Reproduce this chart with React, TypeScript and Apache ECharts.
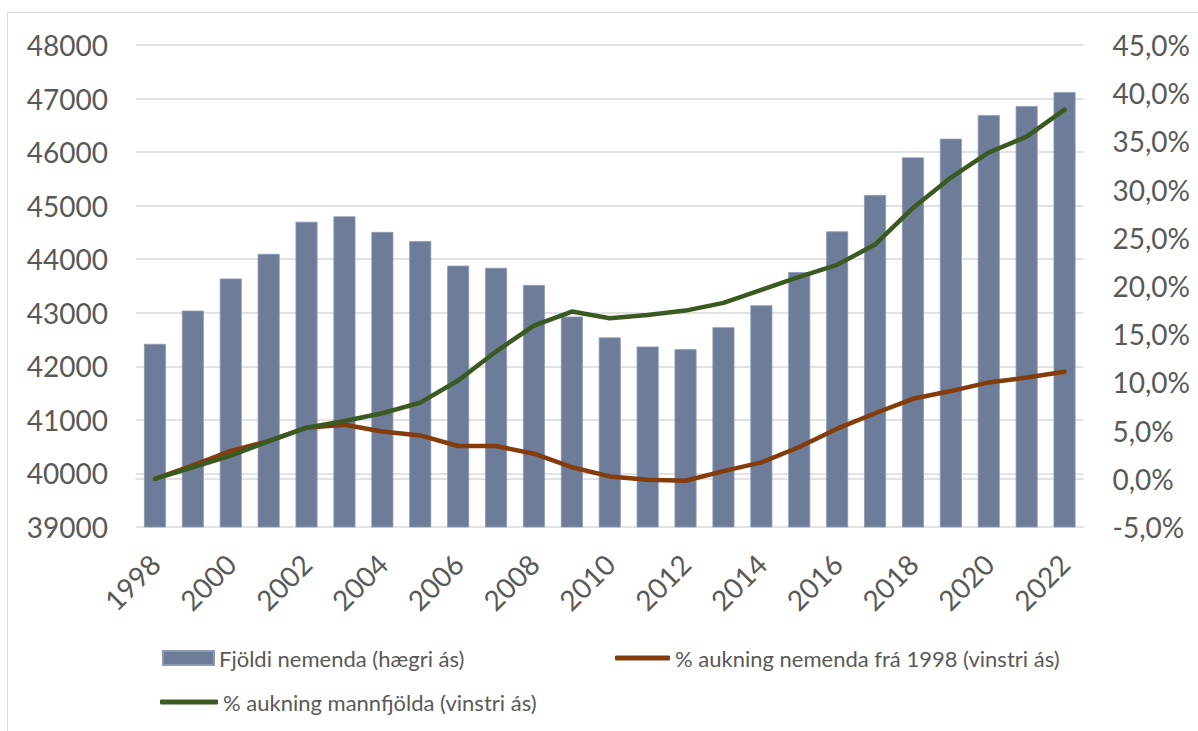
import React, { useEffect, useRef } from "react";
import * as echarts from "echarts";

const years = [
  "1998", "1999", "2000", "2001", "2002", "2003", "2004", "2005", "2006", "2007",
  "2008", "2009", "2010", "2011", "2012", "2013", "2014", "2015", "2016", "2017",
  "2018", "2019", "2020", "2021", "2022",
];

const students = [
  42420, 43040, 43640, 44100, 44700, 44800, 44510, 44340, 43880, 43840,
  43520, 42930, 42540, 42370, 42320, 42730, 43140, 43760, 44520, 45200,
  45900, 46250, 46690, 46860, 47120,
];

const studentGrowth = [
  0, 1.4, 2.9, 3.9, 5.3, 5.6, 4.9, 4.5, 3.4, 3.4,
  2.6, 1.2, 0.25, -0.1, -0.2, 0.8, 1.7, 3.3, 5.2, 6.8,
  8.3, 9.1, 10.0, 10.5, 11.1,
];

const populationGrowth = [
  0, 1.2, 2.4, 3.9, 5.3, 6.0, 6.8, 7.9, 10.2, 13.2,
  15.9, 17.35, 16.65, 17.0, 17.45, 18.25, 19.6, 20.95, 22.2, 24.3,
  28.1, 31.25, 33.85, 35.5, 38.3,
];

const NAME_BAR = "Fjöldi nemenda (hægri ás)";
const NAME_RED = "% aukning nemenda frá 1998 (vinstri ás)";
const NAME_GREEN = "% aukning mannfjölda (vinstri ás)";

const FONT = "Lato, 'Open Sans', sans-serif";
const TEXT = "#595959";
const GRID = "#d9d9d9";
const BAR = "#6D7C99";
const RED = "#843C0C";
const GREEN = "#3A5A22";

export default function App() {
  const ref = useRef<HTMLDivElement>(null);

  useEffect(() => {
    const chart = echarts.init(ref.current!, null, { renderer: "svg" });
    const legendText = { color: TEXT, fontSize: 22, fontFamily: FONT };
    chart.setOption({
      animation: false,
      backgroundColor: "#ffffff",
      textStyle: { fontFamily: FONT },
      graphic: [
        {
          type: "rect",
          shape: { x: 7.5, y: 12.5, width: 1300, height: 800 },
          style: { fill: "none", stroke: GRID, lineWidth: 1 },
          silent: true,
          z: -10,
        },
      ],
      grid: { left: 136, right: 114.5, top: 45, bottom: 204, containLabel: false },
      legend: [
        {
          data: [NAME_BAR],
          left: 162,
          top: 647,
          padding: 0,
          icon: "rect",
          itemWidth: 51,
          itemHeight: 14,
          textStyle: legendText,
        },
        {
          data: [NAME_RED],
          left: 615,
          top: 647,
          padding: 0,
          icon: "roundRect",
          itemWidth: 55,
          itemHeight: 5,
          textStyle: legendText,
        },
        {
          data: [NAME_GREEN],
          left: 160,
          top: 691,
          padding: 0,
          icon: "roundRect",
          itemWidth: 58,
          itemHeight: 5,
          textStyle: legendText,
        },
      ],
      xAxis: {
        type: "category",
        data: years,
        axisLine: { show: true, lineStyle: { color: GRID, width: 1.5 } },
        axisTick: { show: false },
        axisLabel: {
          interval: 1,
          rotate: 45,
          fontSize: 28,
          color: TEXT,
          fontFamily: FONT,
          margin: 32,
        },
      },
      yAxis: [
        {
          type: "value",
          position: "left",
          min: 39000,
          max: 48000,
          interval: 1000,
          axisLine: { show: false },
          axisTick: { show: false },
          axisLabel: {
            fontSize: 28,
            color: TEXT,
            fontFamily: FONT,
            margin: 28,
            formatter: (v: number) => String(v),
          },
          splitLine: { show: true, lineStyle: { color: GRID, width: 1.5 } },
        },
        {
          type: "value",
          position: "right",
          min: -5,
          max: 45,
          interval: 5,
          axisLine: { show: false },
          axisTick: { show: false },
          splitLine: { show: false },
          axisLabel: {
            fontSize: 28,
            color: TEXT,
            fontFamily: FONT,
            margin: 29,
            formatter: (v: number) => v.toFixed(1).replace(".", ",") + "%",
          },
        },
      ],
      series: [
        {
          name: NAME_BAR,
          type: "bar",
          yAxisIndex: 0,
          data: students,
          barWidth: 22,
          itemStyle: { color: BAR, borderColor: "#8E9AB2", borderWidth: 0.8 },
          z: 1,
        },
        {
          name: NAME_RED,
          type: "line",
          yAxisIndex: 1,
          data: studentGrowth,
          symbol: "none",
          lineStyle: { color: RED, width: 4.5, cap: "round", join: "round" },
          itemStyle: { color: RED },
          z: 3,
        },
        {
          name: NAME_GREEN,
          type: "line",
          yAxisIndex: 1,
          data: populationGrowth,
          symbol: "none",
          lineStyle: { color: GREEN, width: 4.5, cap: "round", join: "round" },
          itemStyle: { color: GREEN },
          z: 4,
        },
      ],
    });
    return () => chart.dispose();
  }, []);

  return (
    <div
      ref={ref}
      style={{ position: "absolute", left: 0, top: 0, width: 1198, height: 731 }}
    />
  );
}
